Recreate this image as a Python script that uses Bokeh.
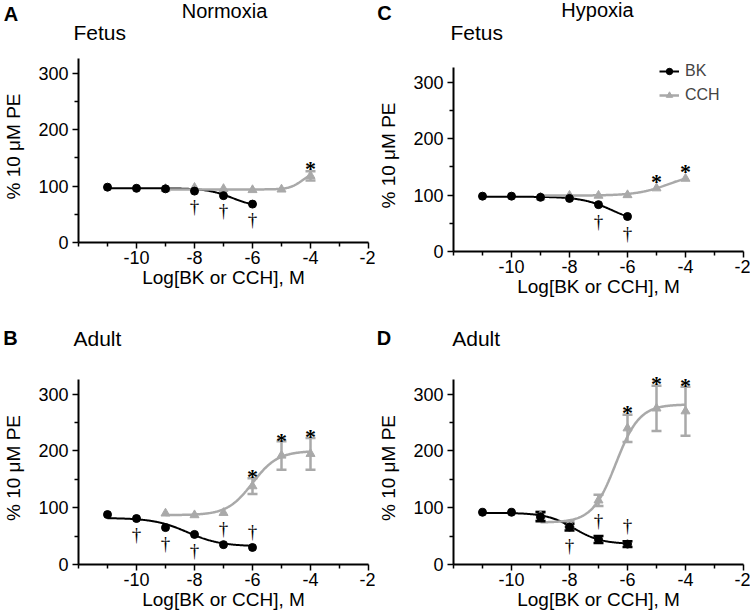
import numpy as np
from bokeh.plotting import figure
from bokeh.models import (Range1d, FixedTicker, LabelSet, ColumnDataSource,
                          Legend, LegendItem, PrintfTickFormatter)
from bokeh.core.properties import value
from bokeh.layouts import row, column
from bokeh.embed import file_html
from bokeh.resources import INLINE

FONT = "Liberation Sans"
BLACK = "#000000"
GRAY = "#a9a9a9"

# ---------------- data ----------------
x_bk = [-11, -10, -9, -8, -7, -6]
x_cch = [-9, -8, -7, -6, -5, -4]

# Panel A: Normoxia, Fetus
bk_A = [98, 96, 95, 91, 83, 68]
bk_A_err = [0, 0, 0, 0, 0, 0]
cch_A = [95, 97, 95, 93, 94, 118]
cch_A_err = [0, 0, 0, 0, 0, 8]
fit_bk_A = [96, 62, -6.7, 1.0]      # left plateau, right plateau, logEC50, hill
fit_cch_A = [94, 125, -4.3, 2.0]
dag_below_A = [-8, -7, -6]
dag_above_A = []
star_A = [-4]

# Panel C: Hypoxia, Fetus
bk_C = [98, 98, 96, 94, 83, 62]
bk_C_err = [0, 0, 0, 0, 0, 0]
cch_C = [96, 99, 99, 100, 112, 129]
cch_C_err = [0, 0, 0, 0, 0, 0]
fit_bk_C = [97, 50, -6.55, 0.84]
fit_cch_C = [99, 140, -4.57, 0.77]
dag_below_C = [-7, -6]
dag_above_C = []
star_C = [-5, -4]

# Panel B: Normoxia, Adult
bk_B = [88, 81, 65, 53, 35, 30]
bk_B_err = [0, 0, 0, 0, 0, 0]
cch_B = [90, 87, 91, 138, 192, 195]
cch_B_err = [0, 0, 0, 14, 25, 28]
fit_bk_B = [82, 32, -8.25, 0.75]
fit_cch_B = [87, 200, -6.0, 1.0]
dag_below_B = [-10, -9, -8]
dag_above_B = [-7, -6]
star_B = [-6, -5, -4]

# Panel D: Hypoxia, Adult
bk_D = [92, 92, 84, 66, 44, 36]
bk_D_err = [0, 0, 8, 6, 6, 5]
cch_D = [86, 71, 113, 240, 275, 270]
cch_D_err = [8, 5, 10, 24, 40, 43]
fit_bk_D = [91, 36, -7.84, 0.91]
fit_cch_D = [74, 282, -6.4, 1.07]
dag_below_D = [-8]
dag_above_D = [-7, -6]
star_D = [-6, -5, -4]

x_ticks = [-10, -8, -6, -4, -2]
x_minor = [-12, -11, -9, -7, -5, -3]
y_ticks = [0, 100, 200, 300]
y_minor = [50, 150, 250]
y_axis_end = 326
y_view_top = 340
x_label = "Log[BK or CCH], M"
y_label = "% 10 \u03bcM PE"
series_names = ["BK", "CCH"]
panel_letters = ["A", "C", "B", "D"]
conditions = ["Normoxia", "Hypoxia"]
ages = ["Fetus", "Adult"]


def sigmoid(x, left, right, logec50, hill):
    return left + (right - left) / (1 + 10 ** ((logec50 - x) * hill))


def make_header(width, height, items):
    h = figure(width=width, height=height, x_range=Range1d(0, width),
               y_range=Range1d(0, height), output_backend="svg",
               toolbar_location=None, tools="", title=None,
               x_axis_location=None, y_axis_location=None,
               min_border=0)
    h.outline_line_color = None
    h.grid.visible = False
    h.background_fill_color = "white"
    h.border_fill_color = "white"
    for (txt, x, y, align, size, style) in items:
        h.text(x=[x], y=[height - y], text=[txt], text_align=align,
               text_baseline="middle", text_font=value(FONT),
               text_font_size=size, text_font_style=style, text_color=BLACK)
    return row(h)


def make_panel(width, height, bl, bt, br, bb, bk, bk_err, cch, cch_err,
               fit_bk, fit_cch, dag_below, dag_above, stars, gaps,
               legend_loc=None):
    p = figure(width=width, height=height, x_range=Range1d(-12, -2),
               y_range=Range1d(0, y_view_top), output_backend="svg",
               toolbar_location=None, tools="", title=None,
               min_border_left=bl, min_border_top=bt, min_border_right=br,
               min_border_bottom=bb)
    p.outline_line_color = None
    p.grid.visible = False
    p.background_fill_color = "white"
    p.border_fill_color = "white"

    for ax in (p.xaxis[0], p.yaxis[0]):
        ax.axis_line_width = 2
        ax.axis_line_color = BLACK
        ax.major_tick_line_width = 1.5
        ax.minor_tick_line_width = 1.5
        ax.major_tick_out = 6
        ax.major_tick_in = 0
        ax.minor_tick_out = 4
        ax.minor_tick_in = 0
        ax.major_label_text_font = FONT
        ax.major_label_text_font_size = "18px"
        ax.major_label_text_color = BLACK
        ax.axis_label_text_font = FONT
        ax.axis_label_text_font_size = "19px"
        ax.axis_label_text_font_style = "normal"
        ax.axis_label_text_color = BLACK
        ax.formatter = PrintfTickFormatter(format="%d")
    p.xaxis.ticker = FixedTicker(ticks=x_ticks, minor_ticks=x_minor)
    p.yaxis.ticker = FixedTicker(ticks=y_ticks, minor_ticks=y_minor)
    p.yaxis.bounds = (0, y_axis_end)
    p.xaxis.axis_label = x_label
    p.yaxis.axis_label = y_label
    p.xaxis.major_label_standoff = 2
    p.xaxis.axis_label_standoff = 0
    p.yaxis.major_label_standoff = 4
    p.yaxis.axis_label_standoff = 11

    xs_bk = np.linspace(x_bk[0], x_bk[-1], 200)
    xs_cch = np.linspace(x_cch[0], x_cch[-1], 200)
    l_bk = p.line(xs_bk, sigmoid(xs_bk, *fit_bk), line_color=BLACK, line_width=2)
    l_cch = p.line(xs_cch, sigmoid(xs_cch, *fit_cch), line_color=GRAY, line_width=2.5)

    def errbars(xv, yv, ev, color):
        xe = [a for a, e in zip(xv, ev) if e > 0]
        lo = [y - e for y, e in zip(yv, ev) if e > 0]
        hi = [y + e for y, e in zip(yv, ev) if e > 0]
        if xe:
            p.segment(xe, lo, xe, hi, line_color=color, line_width=2.5)
            p.scatter(xe + xe, lo + hi, marker="dash", size=10,
                      line_color=color, line_width=2.5)

    errbars(x_cch, cch, cch_err, GRAY)
    errbars(x_bk, bk, bk_err, BLACK)
    s_cch = p.scatter(x_cch, cch, marker="triangle", size=9, fill_color=GRAY,
                      line_color=GRAY)
    s_bk = p.scatter(x_bk, bk, marker="circle", size=8, fill_color=BLACK,
                     line_color=BLACK)

    bkd = dict(zip(x_bk, zip(bk, bk_err)))
    cchd = dict(zip(x_cch, zip(cch, cch_err)))
    g_below, g_above, g_star = gaps
    dag_style = dict(text_align="center", text_baseline="middle", text_font=FONT,
                     text_font_size="19px", text_color=BLACK)
    if dag_below:
        src = ColumnDataSource(dict(x=dag_below,
                                    y=[bkd[v][0] - bkd[v][1] for v in dag_below],
                                    t=["\u2020"] * len(dag_below)))
        p.add_layout(LabelSet(x="x", y="y", text="t", source=src,
                              y_offset=-(g_below - 1.5), **dag_style))
    if dag_above:
        src = ColumnDataSource(dict(x=dag_above,
                                    y=[bkd[v][0] + bkd[v][1] for v in dag_above],
                                    t=["\u2020"] * len(dag_above)))
        p.add_layout(LabelSet(x="x", y="y", text="t", source=src,
                              y_offset=g_above + 1.5, **dag_style))
    if stars:
        src = ColumnDataSource(dict(x=stars,
                                    y=[cchd[v][0] + cchd[v][1] for v in stars],
                                    t=["*"] * len(stars)))
        p.add_layout(LabelSet(x="x", y="y", text="t", source=src,
                              y_offset=g_star - 4.7, text_align="center",
                              text_baseline="middle", text_font=FONT,
                              text_font_size="22px", text_font_style="bold",
                              text_color=BLACK))

    if legend_loc is not None:
        lg = Legend(items=[LegendItem(label=series_names[0], renderers=[l_bk, s_bk]),
                           LegendItem(label=series_names[1], renderers=[l_cch, s_cch])],
                    location=legend_loc, padding=0, margin=0, spacing=6,
                    glyph_width=20, glyph_height=16, label_height=16,
                    label_standoff=6,
                    label_text_font=FONT, label_text_font_size="16px",
                    border_line_color=None, background_fill_alpha=0)
        p.add_layout(lg)
    return p


hA = make_header(375, 50, [(panel_letters[0], 10.5, 13, "center", "20px", "bold"),
                           (conditions[0], 224, 10, "center", "20px", "normal"),
                           (ages[0], 73, 32, "left", "21px", "normal")])
pA = make_panel(375, 255, 72, 0, 7, 63, bk_A, bk_A_err, cch_A, cch_A_err,
                fit_bk_A, fit_cch_A, dag_below_A, dag_above_A, star_A,
                (16.5, 14, 8))

hC = make_header(375, 50, [(panel_letters[1], 9, 12, "center", "20px", "bold"),
                           (conditions[1], 222, 9, "center", "20px", "normal"),
                           (ages[0], 75, 32, "left", "21px", "normal")])
pC = make_panel(375, 255, 72, 9, 7, 54, bk_C, bk_C_err, cch_C, cch_C_err,
                fit_bk_C, fit_cch_C, dag_below_C, dag_above_C, star_C,
                (18.5, 14, 11.5), legend_loc=(206, 147))

hB = make_header(375, 60, [(panel_letters[2], 10, 32.5, "center", "20px", "bold"),
                           (ages[1], 73, 32.5, "left", "21px", "normal")])
pB = make_panel(375, 250, 72, 6, 7, 51, bk_B, bk_B_err, cch_B, cch_B_err,
                fit_bk_B, fit_cch_B, dag_below_B, dag_above_B, star_B,
                (17.5, 14.5, 6))

hD = make_header(375, 60, [(panel_letters[3], 8.5, 32.5, "center", "20px", "bold"),
                           (ages[1], 76.7, 32.5, "left", "21px", "normal")])
pD = make_panel(375, 250, 76, 6, 7, 51, bk_D, bk_D_err, cch_D, cch_D_err,
                fit_bk_D, fit_cch_D, dag_below_D, dag_above_D, star_D,
                (16.5, 14.5, 6.5))

layout = column(row(column(hA, pA), column(hC, pC)),
                row(column(hB, pB), column(hD, pD)))
open("out.html", "w").write(file_html(layout, INLINE))
